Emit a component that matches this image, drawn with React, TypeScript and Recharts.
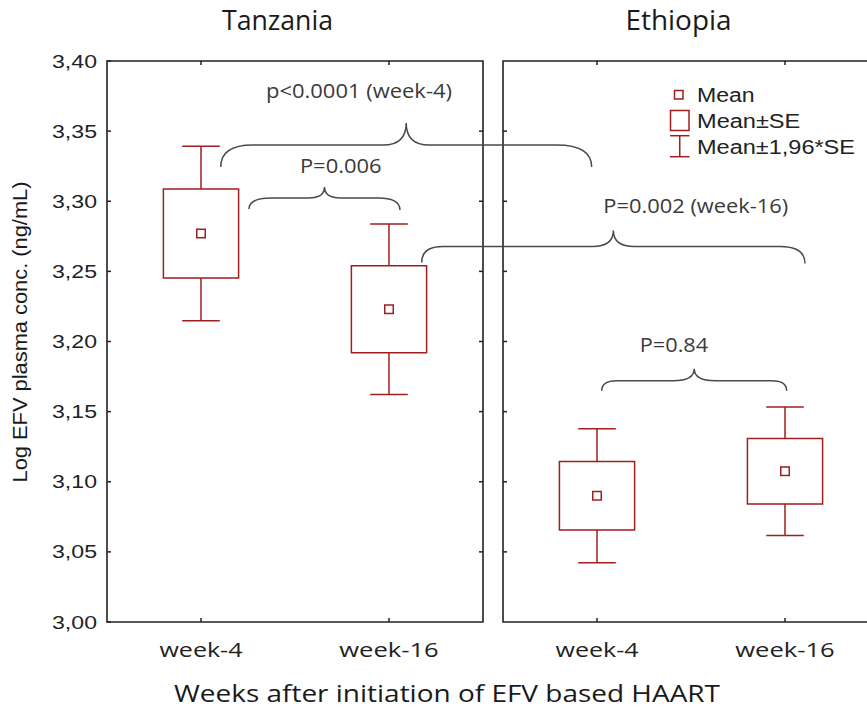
import React from 'react';
import {
  ComposedChart,
  XAxis,
  YAxis,
  Scatter,
  ReferenceArea,
  ReferenceLine,
  ReferenceDot,
  Legend,
} from 'recharts';

// ---------------- DATA ----------------
const countries = ['Tanzania', 'Ethiopia'];
const weeks = ['week-4', 'week-16'];
const tanzaniaMean = [3.277, 3.223];
const tanzaniaSE = [0.0317, 0.031];
const ethiopiaMean = [3.09, 3.1075];
const ethiopiaSE = [0.0244, 0.0234];
const yTicks = [3.0, 3.05, 3.1, 3.15, 3.2, 3.25, 3.3, 3.35, 3.4];
const legendLabels = ['Mean', 'Mean±SE', 'Mean±1,96*SE'];
const xTitle = 'Weeks after initiation of EFV based HAART';
const yTitle = 'Log EFV plasma conc. (ng/mL)';
const braceLabels = ['p<0.0001 (week-4)', 'P=0.006', 'P=0.002 (week-16)', 'P=0.84'];
const braceLevel = [3.3401, 3.3023, 3.2677, 3.172];

// ---------------- LAYOUT / STYLE ----------------
const PANEL = 4;
const GAP = 0.213;
const XMAX = 2 * PANEL + GAP;
const BOX_HALF = 0.4;
const CAP_HALF = 0.2;
const catX = (p: number, i: number) => p * (PANEL + GAP) + 1 + 2 * i;

const braceFrom = [1.21, 1.511, 3.348, 5.263];
const braceTo = [5.156, 3.117, 7.426, 7.231];
const braceLabelX = [2.681, 2.487, 6.264, 6.032];
const braceLabelY = [3.3734, 3.3204, 3.2914, 3.1927];
const braceLabelLen = [186, 81.7, 185, 68.3];
const braceStyle = [
  { hl: 22, hr: 22, cwl: 32, cwr: 35, th: 22, pw: 23 },
  { hl: 11, hr: 12, cwl: 22, cwr: 22, th: 11, pw: 16 },
  { hl: 16, hr: 17, cwl: 21, cwr: 25, th: 16, pw: 21 },
  { hl: 10, hr: 10, cwl: 15, cwr: 15, th: 12, pw: 21 },
];
const titleX = [1.814, 6.08];
const titleY = 3.4221;
const titleLen = [111, 106];
const xTitlePos = { x: 3.617, y: 2.9432 };
const yTitlePos = { x: -0.851, y: 3.2068 };
const xTickLen = [83, 99.5];

const INK = '#222222';
const RED = '#a01e1e';
const BRACE = '#4a4a4a';
const ARIAL = '"Liberation Sans", Arial, sans-serif';
const SANS = '"Open Sans", sans-serif';

const groups = [tanzaniaMean, ethiopiaMean].flatMap((means, p) =>
  means.map((m, i) => ({
    x: catX(p, i),
    mean: m,
    se: [tanzaniaSE, ethiopiaSE][p][i],
  }))
);
const meanPoints = groups.map((g) => ({ x: g.x, y: g.mean }));
const xTickVals = countries.flatMap((_, p) => weeks.map((__, i) => catX(p, i)));
const topTickPts = xTickVals.map((x) => ({ x, y: 3.4 }));
const innerTicks = yTicks.slice(1, -1);
const leftInnerPts = innerTicks.map((y) => ({ x: PANEL, y }));
const rightInnerPts = innerTicks.map((y) => ({ x: PANEL + GAP, y }));

function bracePath(x1: number, x2: number, y: number, s: any) {
  const xm = (x1 + x2) / 2;
  return (
    `M${x1},${y + s.hl} Q${x1},${y} ${x1 + s.cwl},${y} ` +
    `L${xm - s.pw},${y} Q${xm},${y} ${xm},${y - s.th} ` +
    `Q${xm},${y} ${xm + s.pw},${y} L${x2 - s.cwr},${y} ` +
    `Q${x2},${y} ${x2},${y + s.hr}`
  );
}

const XTick = (props: any) => {
  const { x, y, payload } = props;
  const idx = xTickVals.findIndex((v) => Math.abs(v - payload.value) < 1e-6);
  const wi = idx < 0 ? 0 : idx % weeks.length;
  return (
    <text
      x={x}
      y={y + 15}
      textAnchor="middle"
      fontFamily={SANS}
      fontSize={20}
      fill={INK}
      textLength={xTickLen[wi]}
      lengthAdjust="spacingAndGlyphs"
    >
      {weeks[wi]}
    </text>
  );
};

const YTick = (props: any) => {
  const { x, y, payload } = props;
  return (
    <text
      x={x}
      y={y + 6.6}
      textAnchor="end"
      fontFamily={ARIAL}
      fontSize={18.5}
      fill={INK}
      textLength={45}
      lengthAdjust="spacingAndGlyphs"
    >
      {Number(payload.value).toFixed(2).replace('.', ',')}
    </text>
  );
};

const legendLens = [57.7, 103.3, 158];
const LegendBox = () => (
  <svg width={210} height={85} style={{ display: 'block', overflow: 'visible' }}>
    <rect x={14.5} y={10.5} width={8.5} height={8.5} fill="none" stroke={RED} strokeWidth={1.5} />
    <rect x={10.5} y={30.5} width={18.5} height={20} fill="none" stroke={RED} strokeWidth={1.5} />
    <line x1={19.75} y1={55.7} x2={19.75} y2={76.7} stroke={RED} strokeWidth={1.5} />
    <line x1={10} y1={55.7} x2={29.5} y2={55.7} stroke={RED} strokeWidth={1.5} />
    <line x1={10} y1={76.7} x2={29.5} y2={76.7} stroke={RED} strokeWidth={1.5} />
    {legendLabels.map((t, i) => (
      <text
        key={t}
        x={37}
        y={21.7 + 26 * i}
        fontFamily={ARIAL}
        fontSize={20}
        fill={INK}
        textLength={legendLens[i]}
        lengthAdjust="spacingAndGlyphs"
      >
        {t}
      </text>
    ))}
  </svg>
);

export default function App() {
  return (
    <div
      style={{
        position: 'absolute',
        left: 0,
        top: 0,
        width: 867,
        height: 712,
        overflow: 'hidden',
        background: '#ffffff',
      }}
    >
      <ComposedChart
        width={900}
        height={712}
        margin={{ top: 61, right: 21, bottom: 50, left: 47 }}
      >
        <XAxis
          type="number"
          dataKey="x"
          domain={[0, XMAX]}
          allowDataOverflow
          ticks={xTickVals}
          interval={0}
          axisLine={false}
          tickSize={-4}
          tickMargin={24}
          height={40}
          tickLine={{ stroke: INK, strokeWidth: 1.5 }}
          tick={<XTick />}
        />
        <YAxis
          type="number"
          dataKey="y"
          domain={[3.0, 3.4]}
          allowDataOverflow
          ticks={yTicks}
          interval={0}
          axisLine={false}
          tickSize={-4}
          tickMargin={14}
          width={60}
          tickLine={{ stroke: INK, strokeWidth: 1.5 }}
          tick={<YTick />}
        />

        {/* panel frames */}
        {countries.map((c, p) => (
          <ReferenceArea
            key={'frame' + c}
            x1={p * (PANEL + GAP)}
            x2={p * (PANEL + GAP) + PANEL}
            y1={3.0}
            y2={3.4}
            fill="none"
            fillOpacity={0}
            stroke={INK}
            strokeWidth={1.6}
            ifOverflow="visible"
          />
        ))}

        {/* SE boxes */}
        {groups.map((g, k) => (
          <ReferenceArea
            key={'box' + k}
            x1={g.x - BOX_HALF}
            x2={g.x + BOX_HALF}
            y1={g.mean - g.se}
            y2={g.mean + g.se}
            fill="none"
            fillOpacity={0}
            stroke={RED}
            strokeWidth={1.5}
            ifOverflow="visible"
          />
        ))}

        {/* 1.96*SE whiskers */}
        {groups.flatMap((g, k) =>
          [1, -1].flatMap((d) => {
            const edge = g.mean + d * g.se;
            const end = g.mean + d * 1.96 * g.se;
            return [
              <ReferenceLine
                key={`wv${k}${d}`}
                segment={[
                  { x: g.x, y: edge },
                  { x: g.x, y: end },
                ]}
                stroke={RED}
                strokeWidth={1.5}
                ifOverflow="visible"
              />,
              <ReferenceLine
                key={`wc${k}${d}`}
                segment={[
                  { x: g.x - CAP_HALF, y: end },
                  { x: g.x + CAP_HALF, y: end },
                ]}
                stroke={RED}
                strokeWidth={1.5}
                ifOverflow="visible"
              />,
            ];
          })
        )}

        {/* braces */}
        {braceLabels.map((lab, i) => (
          <ReferenceLine
            key={'brace' + i}
            segment={[
              { x: braceFrom[i], y: braceLevel[i] },
              { x: braceTo[i], y: braceLevel[i] },
            ]}
            ifOverflow="visible"
            shape={(p: any) => (
              <path
                d={bracePath(p.x1, p.x2, p.y1, braceStyle[i])}
                fill="none"
                stroke={BRACE}
                strokeWidth={1.5}
              />
            )}
          />
        ))}
        {braceLabels.map((lab, i) => (
          <ReferenceDot
            key={'blab' + i}
            x={braceLabelX[i]}
            y={braceLabelY[i]}
            r={0}
            ifOverflow="visible"
            shape={(p: any) => (
              <text
                x={p.cx}
                y={p.cy}
                textAnchor="middle"
                fontFamily={SANS}
                fontSize={20}
                fill="#3a3a3a"
                textLength={braceLabelLen[i]}
                lengthAdjust="spacingAndGlyphs"
              >
                {lab}
              </text>
            )}
          />
        ))}

        {/* panel titles */}
        {countries.map((c, p) => (
          <ReferenceDot
            key={'title' + c}
            x={titleX[p]}
            y={titleY}
            r={0}
            ifOverflow="visible"
            shape={(q: any) => (
              <text
                x={q.cx}
                y={q.cy}
                textAnchor="middle"
                fontFamily={SANS}
                fontSize={26.5}
                fill="#1a1a1a"
                textLength={titleLen[p]}
                lengthAdjust="spacingAndGlyphs"
              >
                {c}
              </text>
            )}
          />
        ))}

        {/* axis titles */}
        <ReferenceDot
          x={xTitlePos.x}
          y={xTitlePos.y}
          r={0}
          ifOverflow="visible"
          shape={(q: any) => (
            <text
              x={q.cx}
              y={q.cy}
              textAnchor="middle"
              fontFamily={SANS}
              fontSize={23}
              fill="#1a1a1a"
              textLength={546}
              lengthAdjust="spacingAndGlyphs"
            >
              {xTitle}
            </text>
          )}
        />
        <ReferenceDot
          x={yTitlePos.x}
          y={yTitlePos.y}
          r={0}
          ifOverflow="visible"
          shape={(q: any) => (
            <text
              x={0}
              y={0}
              transform={`translate(${q.cx},${q.cy}) rotate(-90)`}
              textAnchor="middle"
              fontFamily={ARIAL}
              fontSize={20}
              fill="#1a1a1a"
              textLength={301}
              lengthAdjust="spacingAndGlyphs"
            >
              {yTitle}
            </text>
          )}
        />

        {/* inward frame ticks */}
        <Scatter
          data={topTickPts}
          isAnimationActive={false}
          shape={(p: any) => (
            <line x1={p.cx} y1={p.cy} x2={p.cx} y2={p.cy + 4} stroke={INK} strokeWidth={1.5} />
          )}
        />
        <Scatter
          data={leftInnerPts}
          isAnimationActive={false}
          shape={(p: any) => (
            <line x1={p.cx - 4} y1={p.cy} x2={p.cx} y2={p.cy} stroke={INK} strokeWidth={1.5} />
          )}
        />
        <Scatter
          data={rightInnerPts}
          isAnimationActive={false}
          shape={(p: any) => (
            <line x1={p.cx} y1={p.cy} x2={p.cx + 4} y2={p.cy} stroke={INK} strokeWidth={1.5} />
          )}
        />

        {/* means */}
        <Scatter
          data={meanPoints}
          isAnimationActive={false}
          shape={(p: any) => (
            <rect
              x={p.cx - 4.25}
              y={p.cy - 4.25}
              width={8.5}
              height={8.5}
              fill="none"
              stroke={RED}
              strokeWidth={1.5}
            />
          )}
        />

        <Legend
          layout="vertical"
          align="center"
          verticalAlign="middle"
          width={210}
          height={85}
          wrapperStyle={{ left: 660, top: 80, width: 210, height: 85 }}
          content={() => <LegendBox />}
        />
      </ComposedChart>
    </div>
  );
}
